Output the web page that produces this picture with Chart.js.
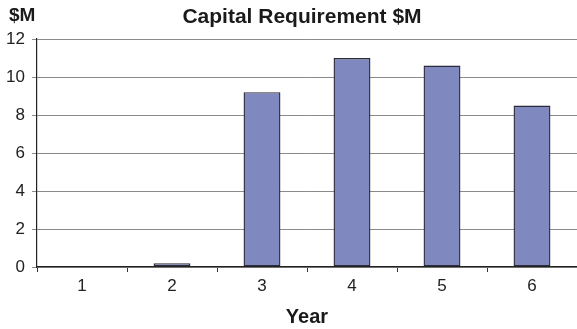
<!DOCTYPE html>
<html>
<head>
<meta charset="utf-8">
<script src="https://cdn.jsdelivr.net/npm/chart.js@4"></script>
<style>
  html, body { margin: 0; padding: 0; background: #fff; }
  #wrap { width: 577px; height: 329px; }
</style>
</head>
<body>
<div id="wrap"><canvas id="capChart" width="577" height="329"></canvas></div>
<script>
// --- Données ---
const years = ['1', '2', '3', '4', '5', '6'];
const capital = [0, 0.2, 9.2, 11.0, 10.6, 8.5];
const titleText = 'Capital Requirement $M';
const unitText = '$M';
const xTitle = 'Year';

const FONT = '"Liberation Sans", Arial, Helvetica, sans-serif';

// titre + unité dessinés à la main (position du titre décalée vers la droite)
const headerPlugin = {
  id: 'header',
  afterDraw(chart) {
    const ctx = chart.ctx;
    ctx.save();
    ctx.fillStyle = '#1a1a1a';
    ctx.textBaseline = 'alphabetic';
    ctx.font = 'bold 21px ' + FONT;
    ctx.textAlign = 'center';
    ctx.fillText(titleText, 302, 23);
    ctx.font = 'bold 19px ' + FONT;
    ctx.textAlign = 'left';
    ctx.fillText(unitText, 9, 21);
    ctx.restore();
  }
};

new Chart(document.getElementById('capChart').getContext('2d'), {
  type: 'bar',
  data: {
    labels: years,
    datasets: [{
      data: capital,
      backgroundColor: '#8088c0',
      borderColor: '#2b2b3a',
      borderWidth: 1.4,
      borderSkipped: false,
      inflateAmount: 0,
      categoryPercentage: 1,
      barPercentage: 0.41
    }]
  },
  options: {
    responsive: false,
    animation: false,
    layout: { padding: { top: 39, left: 0, right: 0, bottom: 0 } },
    plugins: {
      legend: { display: false },
      tooltip: { enabled: false },
      title: { display: false }
    },
    scales: {
      x: {
        offset: true,
        grid: {
          display: true,
          offset: true,
          drawOnChartArea: false,
          drawTicks: true,
          tickLength: 5,
          color: '#333'
        },
        border: { color: '#222', width: 1.2 },
        ticks: { color: '#222', font: { family: FONT, size: 17 }, padding: 4 },
        title: {
          display: true,
          text: xTitle,
          color: '#1a1a1a',
          font: { family: FONT, size: 20, weight: 'bold' },
          padding: { top: 6, bottom: 0 }
        },
        afterFit(scale) { scale.height = 62; }
      },
      y: {
        min: 0,
        max: 12,
        ticks: { stepSize: 2, color: '#222', font: { family: FONT, size: 17 }, padding: 7 },
        grid: { color: '#8a8a8a', tickLength: 5, drawTicks: true },
        border: { color: '#222', width: 1.2 },
        afterFit(scale) { scale.width = 37; }
      }
    }
  },
  plugins: [headerPlugin]
});
</script>
</body>
</html>
